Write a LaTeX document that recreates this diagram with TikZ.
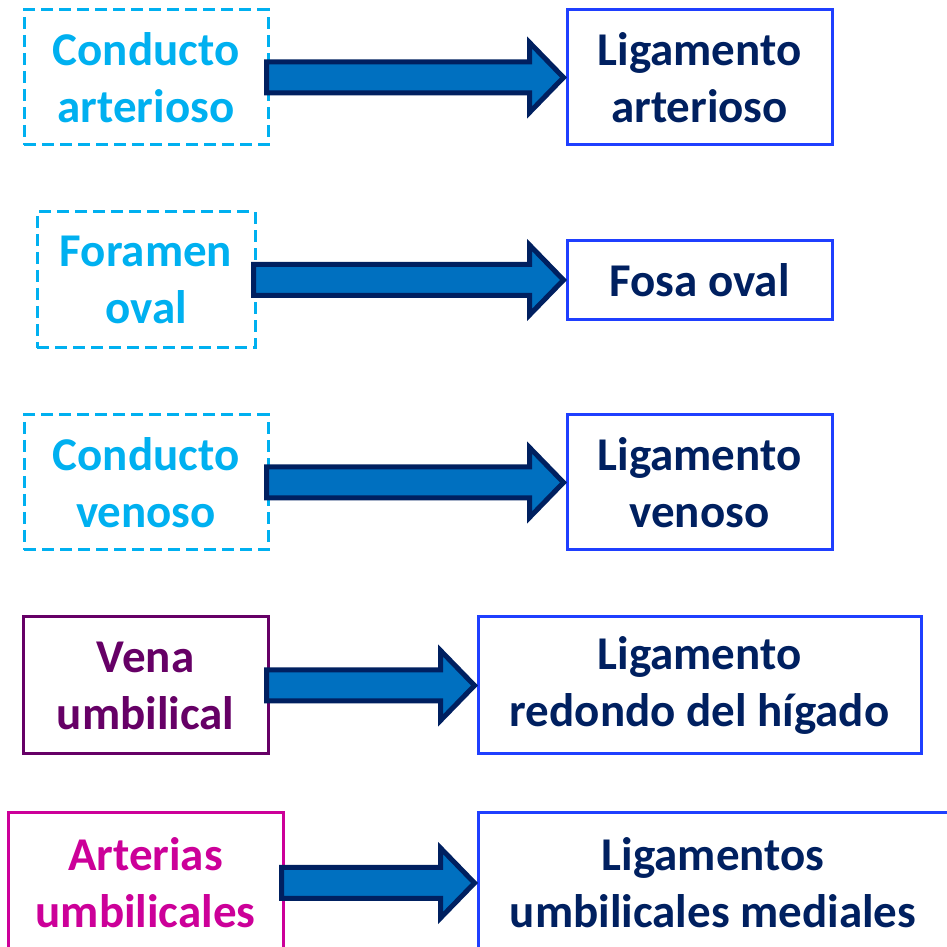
\documentclass[tikz,border=0pt]{standalone}
\usepackage{fontspec}
\setmainfont{Carlito}
\usetikzlibrary{calc}
\definecolor{lblue}{HTML}{00B0F0}
\definecolor{navy}{HTML}{002060}
\definecolor{rblue}{HTML}{1F3FFF}
\definecolor{vpurple}{HTML}{660066}
\definecolor{amag}{HTML}{CC0099}
\definecolor{afill}{HTML}{0070C0}
\tikzset{
  box/.style={rectangle, line width=3pt, align=center, inner sep=0pt,
    font=\fontsize{47}{57}\selectfont\bfseries},
  dashbox/.style={box, draw=lblue, text=lblue, dash pattern=on 12pt off 6pt},
  rbox/.style={box, draw=rblue, text=navy},
  fatarr/.style={draw=navy, fill=afill, line width=5pt, line join=miter}
}
\newcommand\fatarrow[2]{%
  \draw[fatarr] let \p1=(#1.east), \p2=(#2.west) in
    (\x1-3pt,\y1+15.5pt) -- (\x2-36pt,\y1+15.5pt) -- (\x2-36pt,\y1+35pt)
    -- (\x2-2pt,\y1) -- (\x2-36pt,\y1-35pt) -- (\x2-36pt,\y1-15.5pt)
    -- (\x1-3pt,\y1-15.5pt) -- cycle;}
\begin{document}
\begin{tikzpicture}[x=1pt,y=1pt]
\useasboundingbox (0,0) rectangle (947,947);
% row 1
\node[dashbox, minimum width=244pt, minimum height=135pt] (a1) at (146,869.5) {Conducto\\arterioso};
\node[rbox, minimum width=265pt, minimum height=135pt] (b1) at (699.5,869.5) {Ligamento\\arterioso};
% row 2
\node[dashbox, minimum width=218pt, minimum height=136pt] (a2) at (146,667) {Foramen\\oval};
\node[rbox, minimum width=265pt, minimum height=79pt] (b2) at (699.5,667) {Fosa oval};
% row 3
\node[dashbox, minimum width=244pt, minimum height=135pt] (a3) at (146,464.5) {Conducto\\venoso};
\node[rbox, minimum width=265pt, minimum height=135pt] (b3) at (699.5,464.5) {Ligamento\\venoso};
% row 4
\node[box, draw=vpurple, text=vpurple, minimum width=245pt, minimum height=137pt] (a4) at (145.5,261.5) {Vena\\umbilical};
\node[rbox, minimum width=443pt, minimum height=137pt] (b4) at (699.5,261.5) {Ligamento\\redondo del hígado};
% row 5
\node[box, draw=amag, text=amag, minimum width=275pt, minimum height=140pt] (a5) at (145.5,64) {Arterias\\umbilicales};
\node[rbox, minimum width=470pt, minimum height=140pt] (b5) at (713,64) {Ligamentos\\umbilicales mediales};
% arrows
\fatarrow{a1}{b1}
\fatarrow{a2}{b2}
\fatarrow{a3}{b3}
\fatarrow{a4}{b4}
\fatarrow{a5}{b5}
\end{tikzpicture}
\end{document}
